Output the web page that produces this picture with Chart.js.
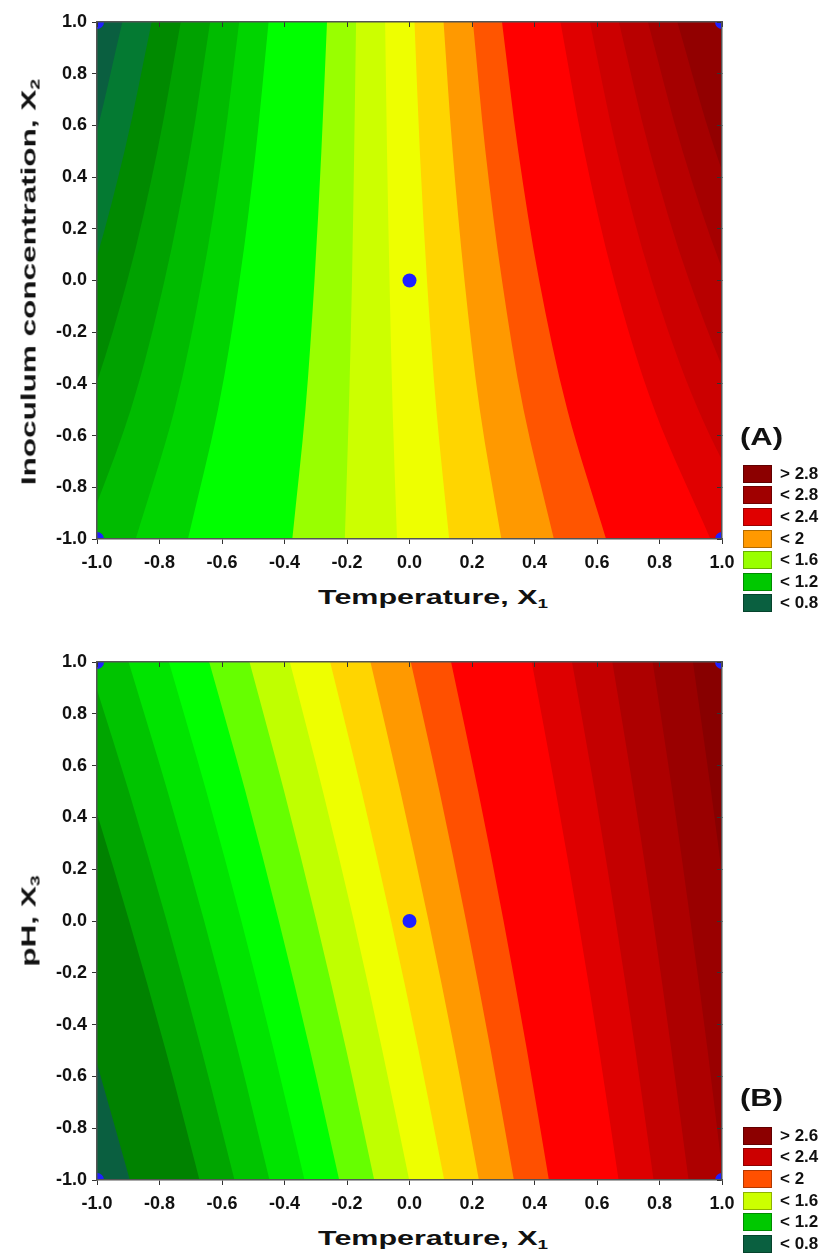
<!DOCTYPE html>
<html>
<head>
<meta charset="utf-8">
<script src="https://cdn.jsdelivr.net/npm/chart.js@4.4.1/dist/chart.umd.min.js"></script>
<style>
  body { margin: 0; background: #fff; }
  #page { position: relative; width: 822px; height: 1253px; overflow: hidden;
          font-family: "Liberation Sans", Arial, sans-serif; font-weight: bold; color: #111; }
  canvas { position: absolute; left: 0; }
  .ttl { position: absolute; white-space: nowrap; font-size: 21px; line-height: 21px; }
  .ttl sub { font-size: 13px; vertical-align: -4px; line-height: 0; }
  .tag { position: absolute; left: 740px; font-size: 23px; line-height: 23px;
         transform-origin: left center; transform: scaleX(1.35); }
  .leg { position: absolute; left: 743px; }
  .leg .row { height: 21.6px; display: flex; align-items: center; }
  .leg .sw { width: 29px; height: 18px; box-sizing: border-box; border: 1px solid rgba(0,0,0,.3); margin-right: 8px; }
  .leg .tx { font-size: 17px; }
</style>
</head>
<body>
<div id="page">
  <canvas id="chartA" width="822" height="580" style="top:0"></canvas>
  <canvas id="chartB" width="822" height="581" style="top:640px"></canvas>

  <div class="ttl" style="left:28px;top:282px;transform:translate(-50%,-50%) rotate(-90deg) scaleX(1.5)">Inoculum concentration, X<sub>2</sub></div>
  <div class="ttl" style="left:433px;top:596px;transform:translate(-50%,-50%) scaleX(1.45)">Temperature, X<sub>1</sub></div>
  <div class="tag" style="top:426px">(A)</div>
  <div class="leg" id="legA" style="top:463px"></div>

  <div class="ttl" style="left:28px;top:921px;transform:translate(-50%,-50%) rotate(-90deg) scaleX(1.5)">pH, X<sub>3</sub></div>
  <div class="ttl" style="left:433px;top:1237px;transform:translate(-50%,-50%) scaleX(1.45)">Temperature, X<sub>1</sub></div>
  <div class="tag" style="top:1087px">(B)</div>
  <div class="leg" id="legB" style="top:1125px"></div>
</div>
<script>
// y positions where the contour boundaries were read (bottom -> top)
const yLevels = [-1, -0.5, 0, 0.5, 1];

// plot A: x1 of each contour boundary at yLevels (left -> right)
const contourA = [
  [-1.545, -1.311, -1.143, -1.017, -0.919],
  [-1.378, -1.171, -1.023, -0.912, -0.825],
  [-1.211, -1.032, -0.903, -0.807, -0.732],
  [-1.043, -0.892, -0.784, -0.702, -0.638],
  [-0.876, -0.752, -0.664, -0.597, -0.545],
  [-0.709, -0.613, -0.544, -0.492, -0.451],
  [-0.375, -0.333, -0.304, -0.282, -0.264],
  [-0.207, -0.194, -0.184, -0.177, -0.171],
  [-0.040, -0.054, -0.064, -0.072, -0.078],
  [0.127, 0.086, 0.056, 0.033, 0.016],
  [0.294, 0.225, 0.176, 0.138, 0.109],
  [0.462, 0.365, 0.296, 0.243, 0.203],
  [0.629, 0.505, 0.415, 0.348, 0.296],
  [0.963, 0.784, 0.655, 0.559, 0.483],
  [1.130, 0.924, 0.775, 0.664, 0.577],
  [1.298, 1.063, 0.895, 0.769, 0.670],
  [1.465, 1.203, 1.015, 0.874, 0.763],
  [1.633, 1.343, 1.135, 0.979, 0.857]
];
// first colour = band left of the first boundary
const bandColorsA = ['#0a5f40', '#047a32', '#008a00', '#00a200', '#00bb00', '#00d400', '#00ff00',
  '#99ff00', '#ccff00', '#eeff00', '#ffd500', '#ff9900', '#ff5500', '#ff0000',
  '#e00000', '#cc0000', '#b80000', '#a50000', '#920000'];

// plot B
const contourB = [
  [-0.895, -1.012, -1.137, -1.271, -1.415],
  [-0.672, -0.780, -0.897, -1.022, -1.157],
  [-0.560, -0.665, -0.777, -0.898, -1.028],
  [-0.448, -0.549, -0.657, -0.774, -0.899],
  [-0.336, -0.434, -0.538, -0.650, -0.770],
  [-0.225, -0.318, -0.418, -0.525, -0.641],
  [-0.113, -0.202, -0.298, -0.401, -0.512],
  [-0.001, -0.087, -0.178, -0.277, -0.383],
  [0.111, 0.029, -0.059, -0.153, -0.254],
  [0.222, 0.145, 0.061, -0.029, -0.125],
  [0.334, 0.260, 0.181, 0.096, 0.004],
  [0.446, 0.376, 0.301, 0.220, 0.133],
  [0.669, 0.607, 0.540, 0.468, 0.391],
  [0.781, 0.723, 0.660, 0.593, 0.520],
  [0.893, 0.838, 0.780, 0.717, 0.649],
  [1.004, 0.954, 0.899, 0.841, 0.778],
  [1.116, 1.069, 1.019, 0.965, 0.907]
];
const bandColorsB = ['#0a5f40', '#008200', '#00a500', '#00c400', '#00e400', '#00ff00', '#66ff00',
  '#c0ff00', '#eeff00', '#ffd500', '#ff9900', '#ff5000', '#ff0000', '#de0000',
  '#c40000', '#ad0000', '#9a0000', '#880000'];

// experimental design points (blue dots)
const designX = [0, -1, -1, 1, 1];
const designY = [0, 1, -1, 1, -1];

const legendLabelsA = ['> 2.8', '< 2.8', '< 2.4', '< 2', '< 1.6', '< 1.2', '< 0.8'];
const legendColorsA = ['#8c0000', '#a00000', '#e00000', '#ff9900', '#99ff00', '#00c800', '#0a6040'];
const legendLabelsB = ['> 2.6', '< 2.4', '< 2', '< 1.6', '< 1.2', '< 0.8'];
const legendColorsB = ['#8c0000', '#cc0000', '#ff5000', '#ccff00', '#00c800', '#0a6040'];

const tickFont = { family: '"Liberation Sans", Arial, sans-serif', size: 18, weight: 'bold' };
const fmt = v => (Math.abs(v) < 1e-9 ? 0 : v).toFixed(1);

function bandDatasets(bounds, colors) {
  // left plot edge + every boundary, each one filled to the right edge
  const lines = [yLevels.map(() => -1)].concat(bounds);
  return lines.map((xs, i) => ({
    data: xs.map((x, k) => ({ x: x, y: yLevels[k] })),
    backgroundColor: colors[i],
    borderColor: colors[i],
    borderWidth: 0,
    pointRadius: 0,
    fill: { value: 1 },
    cubicInterpolationMode: 'monotone',
    clip: 0,
    order: 100 - i
  }));
}

function axis(pos, shown) {
  const horiz = pos === 'bottom' || pos === 'top';
  return {
    type: 'linear',
    axis: horiz ? 'x' : 'y',
    position: pos,
    min: -1, max: 1,
    ticks: { stepSize: 0.2, display: shown, font: tickFont, color: '#111',
             padding: horiz ? 8 : 5, callback: fmt, maxRotation: 0, autoSkip: false },
    grid: { drawOnChartArea: false, tickLength: shown ? 5 : -5, color: '#333', lineWidth: 1, z: 1 },
    border: { color: '#555', width: 1.5, z: 1 },
    afterFit: s => {
      if (horiz) s.height = shown ? 41 : 0;
      else s.width = shown ? 97 : 0;
    }
  };
}

function makeChart(id, bounds, colors) {
  const sets = bandDatasets(bounds, colors);
  sets.push({
    data: designX.map((x, i) => ({ x: x, y: designY[i] })),
    showLine: false,
    pointRadius: 7,
    pointHoverRadius: 7,
    pointBackgroundColor: '#1f1fff',
    pointBorderWidth: 0,
    fill: false,
    clip: 0,
    order: 0
  });
  return new Chart(document.getElementById(id), {
    type: 'line',
    data: { datasets: sets },
    options: {
      indexAxis: 'y',
      responsive: false,
      animation: false,
      layout: { padding: { top: 22, right: 100, bottom: 0, left: 0 } },
      plugins: { legend: { display: false }, tooltip: { enabled: false } },
      scales: {
        x: axis('bottom', true),
        y: axis('left', true),
        x2: axis('top', false),
        y2: axis('right', false)
      }
    }
  });
}

function makeLegend(id, labels, colors) {
  const box = document.getElementById(id);
  labels.forEach((t, i) => {
    const row = document.createElement('div');
    row.className = 'row';
    row.innerHTML = '<span class="sw" style="background:' + colors[i] + '"></span><span class="tx">' + t + '</span>';
    box.appendChild(row);
  });
}

makeChart('chartA', contourA, bandColorsA);
makeChart('chartB', contourB, bandColorsB);
makeLegend('legA', legendLabelsA, legendColorsA);
makeLegend('legB', legendLabelsB, legendColorsB);
</script>
</body>
</html>
